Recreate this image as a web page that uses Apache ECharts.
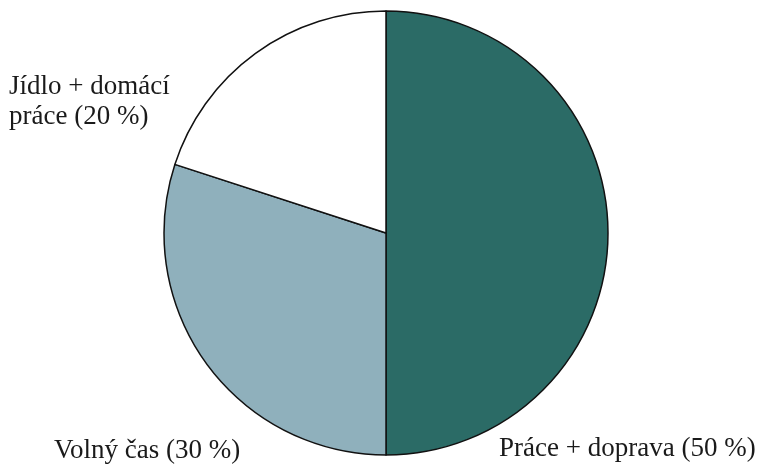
<!DOCTYPE html>
<html><head><meta charset="utf-8">
<script src="https://cdn.jsdelivr.net/npm/echarts@6/dist/echarts.min.js"></script>
<style>html,body{margin:0;padding:0;background:#fff}#c{width:766px;height:468px}</style>
</head><body><div id="c"></div>
<script>
const categories = ['Práce + doprava', 'Volný čas', 'Jídlo + domácí\npráce'];
const values = [50, 30, 20];
const labelTexts = ['Práce + doprava (50 %)', 'Volný čas (30 %)', 'Jídlo + domácí\npráce (20 %)'];
const colors = ['#2b6b66', '#8fb0bc', '#ffffff'];
const labelPos = [
  {x: 499, y: 464, align: 'left'},
  {x: 54, y: 466, align: 'left'},
  {x: 9, y: 132, align: 'left'}
];
const chart = echarts.init(document.getElementById('c'), null, {renderer: 'canvas'});
chart.setOption({
  animation: false,
  series: [{
    type: 'pie',
    center: [386, 233],
    radius: 222,
    startAngle: 90,
    clockwise: true,
    data: categories.map((c, i) => ({
      name: c, value: values[i],
      itemStyle: {color: colors[i]},
      label: {formatter: labelTexts[i]}
    })),
    itemStyle: {borderColor: '#111', borderWidth: 1.5},
    label: {
      show: true,
      position: 'outside',
      fontFamily: 'Liberation Serif',
      fontSize: 27,
      lineHeight: 30,
      color: '#1a1a1a',
      overflow: 'none',
      width: 400,
      verticalAlign: 'bottom'
    },
    labelLine: {show: false},
    labelLayout: function (p) {
      const l = labelPos[p.dataIndex];
      return {x: l.x, y: l.y, align: l.align, verticalAlign: 'bottom'};
    },
    emphasis: {disabled: true}
  }]
});
</script></body></html>
